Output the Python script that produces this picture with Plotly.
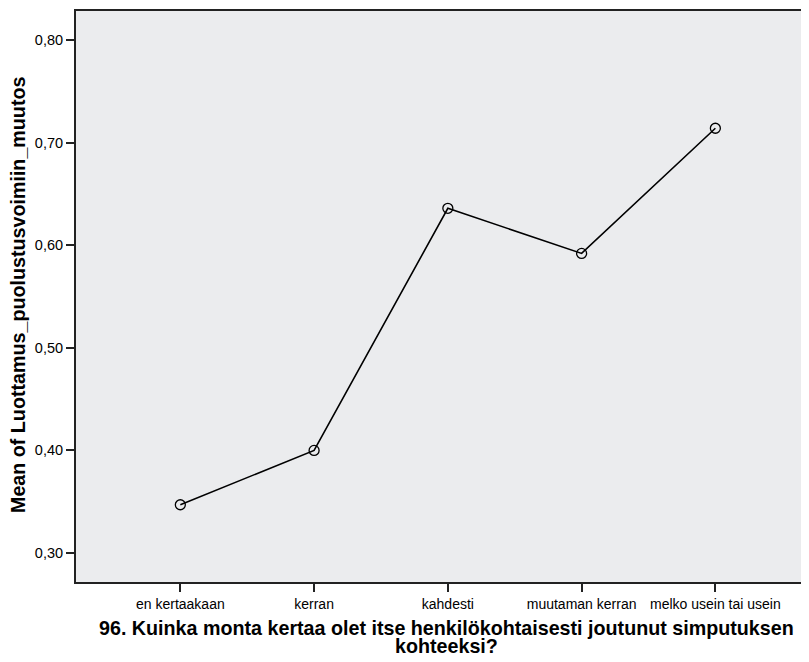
import plotly.graph_objects as go

categories = ["en kertaakaan", "kerran", "kahdesti", "muutaman kerran", "melko usein tai usein"]
means = [0.347, 0.400, 0.636, 0.592, 0.714]
y_ticks = [0.30, 0.40, 0.50, 0.60, 0.70, 0.80]

x_title_lines = ["96. Kuinka monta kertaa olet itse henkilökohtaisesti joutunut simputuksen", "kohteeksi?"]
y_title = "Mean of Luottamus_puolustusvoimiin_muutos"

FONT = "Liberation Sans, Arial, sans-serif"
OFF = 8  # page body margin offset

L, T, B = 76 - OFF, 11 - OFF, 582 - OFF
W, H = 809 - OFF, 662 - 2 * OFF

fig = go.Figure()
fig.add_trace(go.Scatter(
    x=categories, y=means, mode="lines+markers",
    line=dict(color="black", width=1.6),
    marker=dict(symbol="circle-open", size=10, color="black", line=dict(width=1.3)),
    hoverinfo="skip", showlegend=False,
))

fig.update_layout(
    width=W, height=H,
    margin=dict(l=L, r=0, t=T, b=H - B, autoexpand=False),
    paper_bgcolor="white", plot_bgcolor="#EBECEE",
    separators=", ",
    font=dict(family=FONT, color="black", size=12),
)
fig.update_xaxes(
    type="category", range=[-0.78, 4.70], automargin=False,
    showgrid=False, zeroline=False,
    showline=True, linecolor="#222", linewidth=2, mirror=True,
    ticks="outside", ticklen=8, tickwidth=2, tickcolor="#222",
    tickfont=dict(size=14),
)
fig.update_yaxes(
    range=[0.2717, 0.8283], automargin=False,
    tickvals=y_ticks, tickformat=".2f",
    showgrid=False, zeroline=False,
    showline=True, linecolor="#222", linewidth=2, mirror=False,
    ticks="outside", ticklen=8, tickwidth=2, tickcolor="#222",
    tickfont=dict(size=14.5),
)

title_font = dict(size=19.7, family=FONT, weight="bold", color="black")
# x-axis title (two lines, tight spacing)
fig.add_annotation(text=x_title_lines[0], xref="paper", yref="paper", x=0.0, y=0.0,
                   xshift=446.5 - 76, yshift=-(628 - 582), showarrow=False,
                   xanchor="center", yanchor="middle", font=title_font)
fig.add_annotation(text=x_title_lines[1], xref="paper", yref="paper", x=0.0, y=0.0,
                   xshift=446.5 - 76, yshift=-(646 - 582), showarrow=False,
                   xanchor="center", yanchor="middle", font=title_font)
# y-axis title
fig.add_annotation(text=y_title, xref="paper", yref="paper", x=0.0, y=1.0,
                   xshift=18 - 76, yshift=-(295 - 11), textangle=-90, showarrow=False,
                   xanchor="center", yanchor="middle", font=title_font)

fig.write_html("out.html")
